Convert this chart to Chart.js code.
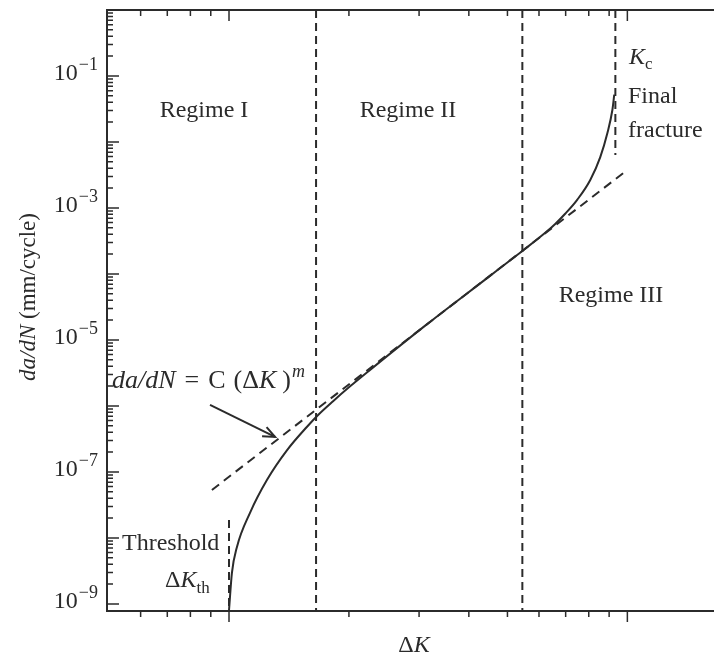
<!DOCTYPE html>
<html>
<head>
<meta charset="utf-8">
<script src="https://cdn.jsdelivr.net/npm/chart.js@4.4.1/dist/chart.umd.min.js"></script>
<style>
  html, body { margin: 0; padding: 0; background: #fff; }
  canvas { display: block; }
</style>
</head>
<body>
<canvas id="crack" width="714" height="657"></canvas>
<script>
// crack growth curve, da/dN vs ΔK (both log)
const dkCurve = [1.0, 1.017, 1.047, 1.129, 1.246, 1.399, 1.57, 1.664, 1.825, 2.014, 2.24, 3.16, 4.47, 5.45, 6.22, 6.59, 6.98, 7.49, 8.07, 8.55, 8.91, 9.17, 9.27];
const rateCurve = [8e-10, 2.95e-9, 7.3e-9, 2.4e-8, 7.6e-8, 2.14e-7, 4.84e-7, 7.05e-7, 1.18e-6, 1.98e-6, 3.36e-6, 1.78e-5, 8.87e-5, 2.23e-4, 4.2e-4, 5.73e-4, 8.17e-4, 1.34e-3, 2.66e-3, 5.9e-3, 1.37e-2, 3.05e-2, 5.2e-2];

// Paris law straight line
const parisDK = [0.906, 10.0];
const parisRate = [5.33e-8, 3.77e-3];

// regime borders and limits
const boundaryDK = [1.654, 5.45];
const thresholdDK = 1.0;
const thresholdTop = 1.87e-8;
const kcDK = 9.33;
const kcBottom = 6.35e-3;

// arrow pointing at the Paris line
const arrowDK = [0.896, 1.305];
const arrowRate = [1.04e-6, 3.39e-7];

// axes
const xMin = 0.494, xMax = 16.5;
const yMin = 7.8e-10, yMax = 1;
const xMajorTicks = [1, 10];
const xMinorTicks = [0.6, 0.7, 0.8, 0.9, 2, 3, 4, 5, 6, 7, 8, 9];
const yDecades = [-9, -8, -7, -6, -5, -4, -3, -2, -1, 0];
const yLabelExponents = [-1, -3, -5, -7, -9];

const INK = "#2b2b2b";
const FONT = '"Liberation Serif", "Times New Roman", serif';

function pts(xs, ys) {
  return xs.map((v, i) => ({ x: v, y: ys[i] }));
}

function lineSet(data, dash) {
  return {
    data: data,
    showLine: true,
    borderColor: INK,
    borderWidth: 2,
    borderDash: dash || [],
    pointRadius: 0,
    fill: false
  };
}

function runFont(r, size) {
  return (r.italic ? "italic " : "") + Math.round(size * (r.scale || 1)) + "px " + FONT;
}

// draws text made of several pieces (italic, super/subscripts)
function drawRuns(ctx, x, y, runs, size, align) {
  let w = 0;
  runs.forEach(r => {
    ctx.font = runFont(r, size);
    w += (r.gap || 0) + ctx.measureText(r.t).width;
  });
  let cx = x;
  if (align === "center") cx = x - w / 2;
  if (align === "right") cx = x - w;
  runs.forEach(r => {
    ctx.font = runFont(r, size);
    cx += r.gap || 0;
    ctx.fillText(r.t, cx, y + (r.dy || 0));
    cx += ctx.measureText(r.t).width;
  });
}

const extras = {
  id: "extras",
  afterDraw(chart) {
    const ctx = chart.ctx;
    const area = chart.chartArea;
    const xs = chart.scales.x;
    const ys = chart.scales.y;
    ctx.save();
    ctx.strokeStyle = INK;
    ctx.fillStyle = INK;
    ctx.lineWidth = 1.5;

    // left axis ticks, pointing inward
    ctx.beginPath();
    yDecades.forEach(e => {
      const base = Math.pow(10, e);
      const py = ys.getPixelForValue(base);
      ctx.moveTo(area.left, py);
      ctx.lineTo(area.left + 12, py);
      for (let k = 2; k <= 9; k++) {
        const v = k * base;
        if (v > yMax) continue;
        const q = ys.getPixelForValue(v);
        ctx.moveTo(area.left, q);
        ctx.lineTo(area.left + 6, q);
      }
    });
    // top ticks inward, bottom ticks outward
    xMajorTicks.forEach(v => {
      const px = xs.getPixelForValue(v);
      ctx.moveTo(px, area.top);
      ctx.lineTo(px, area.top + 11);
      ctx.moveTo(px, area.bottom);
      ctx.lineTo(px, area.bottom + 11);
    });
    xMinorTicks.forEach(v => {
      const px = xs.getPixelForValue(v);
      ctx.moveTo(px, area.top);
      ctx.lineTo(px, area.top + 6);
      ctx.moveTo(px, area.bottom);
      ctx.lineTo(px, area.bottom + 6);
    });
    ctx.stroke();

    // arrow head
    const hx = xs.getPixelForValue(arrowDK[1]);
    const hy = ys.getPixelForValue(arrowRate[1]);
    const tx = xs.getPixelForValue(arrowDK[0]);
    const ty = ys.getPixelForValue(arrowRate[0]);
    const ang = Math.atan2(hy - ty, hx - tx);
    ctx.lineWidth = 2;
    ctx.beginPath();
    ctx.moveTo(hx - 13 * Math.cos(ang - 0.4), hy - 13 * Math.sin(ang - 0.4));
    ctx.lineTo(hx, hy);
    ctx.lineTo(hx - 13 * Math.cos(ang + 0.4), hy - 13 * Math.sin(ang + 0.4));
    ctx.stroke();

    // y tick labels 10^n
    ctx.textBaseline = "alphabetic";
    yLabelExponents.forEach(e => {
      const py = ys.getPixelForValue(Math.pow(10, e));
      drawRuns(ctx, 98, py + 4, [
        { t: "10" },
        { t: "\u2212" + Math.abs(e), scale: 0.74, dy: -10, gap: 1 }
      ], 24, "right");
    });

    // axis titles
    ctx.save();
    ctx.translate(35, 297);
    ctx.rotate(-Math.PI / 2);
    drawRuns(ctx, 0, 0, [{ t: "da/dN", italic: true }, { t: " (mm/cycle)" }], 23, "center");
    ctx.restore();
    drawRuns(ctx, 414, 652, [{ t: "\u0394" }, { t: "K", italic: true }], 24, "center");

    // region labels
    drawRuns(ctx, 204, 117, [{ t: "Regime I" }], 24, "center");
    drawRuns(ctx, 408, 117, [{ t: "Regime II" }], 24, "center");
    drawRuns(ctx, 611, 302, [{ t: "Regime III" }], 24, "center");
    drawRuns(ctx, 629, 64, [{ t: "K", italic: true }, { t: "c", scale: 0.7, dy: 5 }], 24, "left");
    drawRuns(ctx, 628, 103, [{ t: "Final" }], 24, "left");
    drawRuns(ctx, 628, 137, [{ t: "fracture" }], 24, "left");
    drawRuns(ctx, 122, 550, [{ t: "Threshold" }], 24, "left");
    drawRuns(ctx, 165, 587, [
      { t: "\u0394" },
      { t: "K", italic: true },
      { t: "th", scale: 0.7, dy: 6 }
    ], 24, "left");
    drawRuns(ctx, 112, 388, [
      { t: "da/dN", italic: true },
      { t: "=", gap: 9 },
      { t: "C", gap: 9 },
      { t: "(", gap: 8 },
      { t: "\u0394" },
      { t: "K", italic: true },
      { t: ")", gap: 6 },
      { t: "m", italic: true, scale: 0.68, dy: -11, gap: 1 }
    ], 26, "left");

    ctx.restore();
  }
};

const axisBorder = { display: true, color: INK, width: 2 };

new Chart(document.getElementById("crack").getContext("2d"), {
  type: "scatter",
  data: {
    datasets: [
      Object.assign(lineSet(pts(dkCurve, rateCurve)), { cubicInterpolationMode: "monotone" }),
      lineSet(pts(parisDK, parisRate), [9, 6]),
      lineSet(pts([thresholdDK, thresholdDK], [thresholdTop, yMin]), [8, 5]),
      lineSet(pts([boundaryDK[0], boundaryDK[0]], [yMax, yMin]), [8, 5]),
      lineSet(pts([boundaryDK[1], boundaryDK[1]], [yMax, yMin]), [8, 5]),
      lineSet(pts([kcDK, kcDK], [yMax, kcBottom]), [8, 5]),
      lineSet(pts(arrowDK, arrowRate))
    ]
  },
  options: {
    responsive: false,
    devicePixelRatio: 1,
    animation: false,
    layout: { padding: 0 },
    plugins: { legend: { display: false }, tooltip: { enabled: false } },
    scales: {
      x: {
        type: "logarithmic",
        position: "bottom",
        min: xMin,
        max: xMax,
        grid: { display: false, drawTicks: false },
        ticks: { display: false },
        border: axisBorder,
        afterFit(s) { s.height = 46; }
      },
      xTop: {
        type: "logarithmic",
        position: "top",
        min: xMin,
        max: xMax,
        grid: { display: false, drawTicks: false },
        ticks: { display: false },
        border: axisBorder,
        afterFit(s) { s.height = 10; }
      },
      y: {
        type: "logarithmic",
        min: yMin,
        max: yMax,
        grid: { display: false, drawTicks: false },
        ticks: { display: false },
        border: axisBorder,
        afterFit(s) { s.width = 107; }
      }
    }
  },
  plugins: [extras]
});
</script>
</body>
</html>
